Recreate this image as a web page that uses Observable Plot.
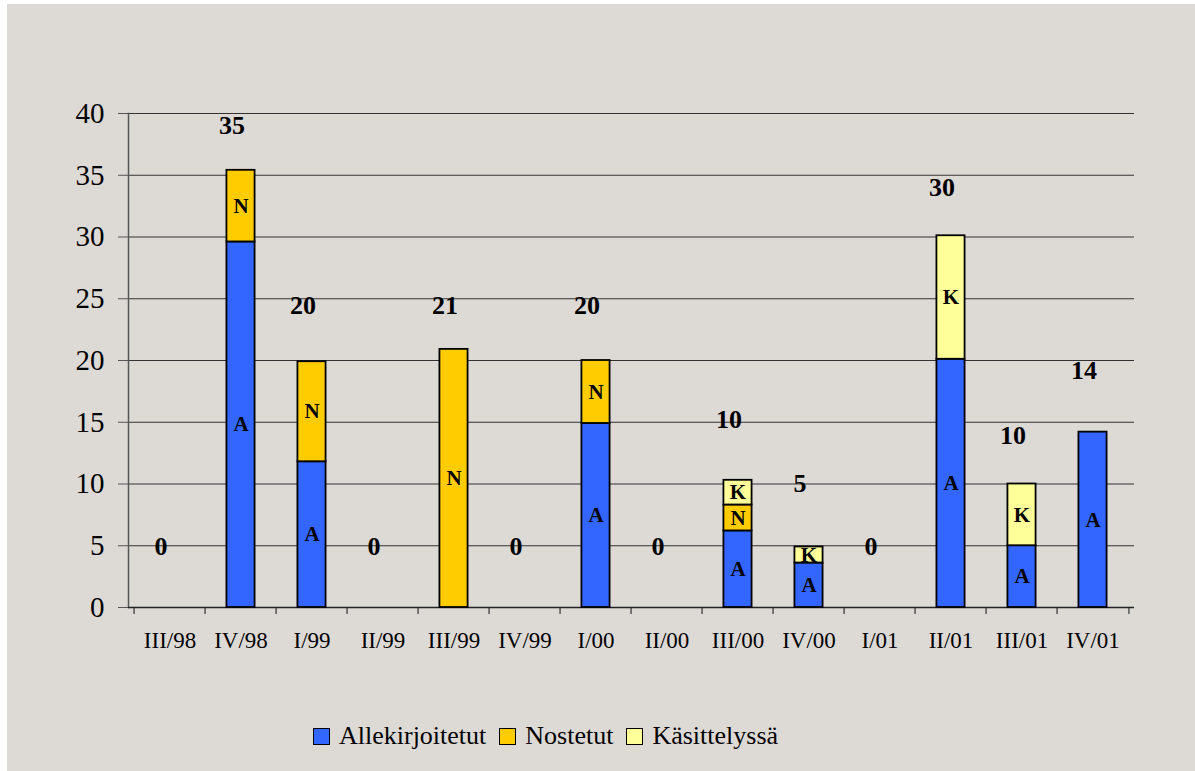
<!DOCTYPE html>
<html>
<head>
<meta charset="utf-8">
<script src="https://cdn.jsdelivr.net/npm/d3@7"></script>
<script src="https://cdn.jsdelivr.net/npm/@observablehq/plot@0.6"></script>
<style>
  html, body { margin: 0; padding: 0; background: #ffffff; }
  #frame { position: absolute; left: 7px; top: 4px; width: 1188px; height: 767px; background: #DDDAD6; font-family: "Liberation Serif", "Times New Roman", "DejaVu Serif", serif; }
  #legend { position: absolute; left: 306px; top: 717px; display: flex; align-items: center; font-size: 26px; color: #000; white-space: nowrap; }
  .item { display: flex; align-items: center; margin-right: 13px; }
  .sw { width: 15px; height: 15px; border: 1.5px solid #000; margin-right: 9px; }
  #chart svg, #chart svg text { font-family: "Liberation Serif", "Times New Roman", "DejaVu Serif", serif !important; }
</style>
</head>
<body>
<div id="frame"><div id="chart"></div><div id="legend"></div></div>
<script>
const quarters = ["III/98","IV/98","I/99","II/99","III/99","IV/99","I/00","II/00","III/00","IV/00","I/01","II/01","III/01","IV/01"];
const allekirjoitetut = [0, 29.6, 11.8, 0, 0, 0, 14.9, 0, 6.2, 3.6, 0, 20.1, 5.0, 14.2];
const nostetut        = [0, 5.8, 8.1, 0, 20.9, 0, 5.1, 0, 2.1, 0, 0, 0, 0, 0];
const kasittelyssa    = [0, 0, 0, 0, 0, 0, 0, 0, 2.0, 1.3, 0, 10.0, 5.0, 0];
const totalLabels = [0, 35, 20, 0, 21, 0, 20, 0, 10, 5, 0, 30, 10, 14];
const labelLevel  = [4.9, 39, 24.4, 4.9, 24.4, 4.9, 24.4, 4.9, 15.2, 10, 4.9, 34, 13.9, 19.2];
const seriesNames = ["Allekirjoitetut", "Nostetut", "Käsittelyssä"];
const seriesLetters = ["A", "N", "K"];
const seriesColors = ["#3366FF", "#FFCC00", "#FFFF99"];
const yTicks = [0, 5, 10, 15, 20, 25, 30, 35, 40];

const seriesValues = [allekirjoitetut, nostetut, kasittelyssa];
const rows = [];
quarters.forEach((q, i) => {
  seriesValues.forEach((vals, s) => {
    if (vals[i] > 0) rows.push({quarter: q, series: seriesNames[s], letter: seriesLetters[s], value: vals[i]});
  });
});
const totals = quarters.map((q, i) => ({quarter: q, label: String(totalLabels[i]), level: labelLevel[i]}));

const W = 1188, H = 690, mL = 121, mR = 61, mT = 109, mB = 87;
const half = (W - mL - mR) / quarters.length / 2;
const barInset = half - 14.5;
const serif = "'Liberation Serif', 'Times New Roman', 'DejaVu Serif', serif";

const chart = Plot.plot({
  width: W, height: H,
  marginLeft: mL, marginRight: mR, marginTop: mT, marginBottom: mB,
  style: {background: "transparent", fontFamily: serif, color: "#000"},
  x: {type: "band", domain: quarters, padding: 0, label: null},
  y: {domain: [0, 40], label: null},
  color: {domain: seriesNames, range: seriesColors},
  marks: [
    Plot.gridY(yTicks, {stroke: "#333", strokeOpacity: 1, strokeWidth: 1.2}),
    Plot.frame({anchor: "left", stroke: "#555", strokeWidth: 1.5}),
    Plot.axisY(yTicks, {tickSize: 10, tickPadding: 14, fontSize: 29, stroke: "#555", label: null}),
    Plot.axisX({tickSize: 0, tickPadding: 24, fontSize: 23, label: null}),
    Plot.ruleX(quarters, {x: d => d, y1: 0, y2: -0.57, dx: -half, stroke: "#555", strokeWidth: 1.5}),
    Plot.ruleX([quarters[quarters.length - 1]], {x: d => d, y1: 0, y2: -0.57, dx: half, stroke: "#555", strokeWidth: 1.5}),
    Plot.ruleY([0], {stroke: "#222", strokeWidth: 1.5}),
    Plot.barY(rows, Plot.stackY({x: "quarter", y: "value", z: "series", fill: "series", order: seriesNames, stroke: "#000", strokeWidth: 1.8, insetLeft: barInset, insetRight: barInset})),
    Plot.text(rows, Plot.stackY({x: "quarter", y: "value", z: "series", order: seriesNames, text: "letter", fontSize: 21, fontWeight: "bold", fill: "#000"})),
    Plot.text(totals, {x: "quarter", y: "level", text: "label", dx: -9, fontSize: 26, fontWeight: "bold", fill: "#000"})
  ]
});
document.getElementById("chart").appendChild(chart);

const legend = document.getElementById("legend");
seriesNames.forEach((name, i) => {
  const item = document.createElement("div");
  item.className = "item";
  const sw = document.createElement("div");
  sw.className = "sw";
  sw.style.background = seriesColors[i];
  const t = document.createElement("span");
  t.textContent = name;
  item.appendChild(sw);
  item.appendChild(t);
  legend.appendChild(item);
});
</script>
</body>
</html>
